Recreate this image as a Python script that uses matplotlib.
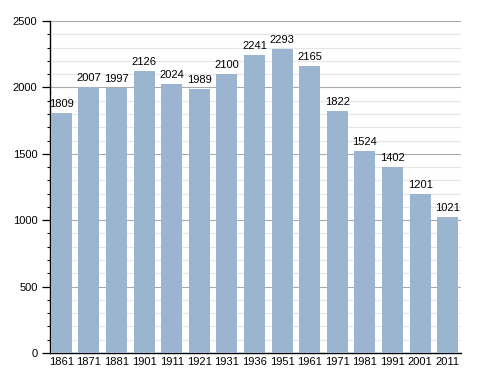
import matplotlib
matplotlib.use("Agg")
import matplotlib.pyplot as plt
from matplotlib.ticker import MultipleLocator

plt.rcParams["font.family"] = ["Liberation Sans", "DejaVu Sans"]

years = ["1861", "1871", "1881", "1901", "1911", "1921", "1931", "1936", "1951", "1961", "1971", "1981", "1991", "2001", "2011"]
population = [1809, 2007, 1997, 2126, 2024, 1989, 2100, 2241, 2293, 2165, 1822, 1524, 1402, 1201, 1021]

fig = plt.figure(figsize=(4.88, 3.73), dpi=100)
ax = fig.add_axes([0.1025, 0.0536, 0.842, 0.89])

x = list(range(len(years)))
width = 0.76
ax.bar(x, population, width=width, align="edge", color="#9bb4d0", zorder=3)
for i, v in zip(x, population):
    ax.text(i + width / 2, v + 30, str(v), ha="center", va="bottom", fontsize=8, color="black", zorder=4)

ax.set_xlim(-0.03, 14.86)
ax.set_ylim(0, 2500)
ax.set_xticks([i + width / 2 for i in x])
ax.set_xticklabels(years, fontsize=8)
ax.yaxis.set_major_locator(MultipleLocator(500))
ax.yaxis.set_minor_locator(MultipleLocator(100))
ax.tick_params(axis="y", labelsize=8, which="major", length=6, width=0.9, direction="out", pad=3)
ax.tick_params(axis="y", which="minor", length=2.5, width=0.8, direction="out")
ax.tick_params(axis="x", length=0, pad=3)
ax.grid(axis="y", which="major", color="#aaaaaa", linewidth=0.8, zorder=1)
ax.grid(axis="y", which="minor", color="#e6e6e6", linewidth=0.8, zorder=0)
for s in ["top", "right"]:
    ax.spines[s].set_visible(False)
ax.spines["left"].set_linewidth(1.0)
ax.spines["bottom"].set_linewidth(1.0)
ax.set_axisbelow(True)

fig.savefig("out.png", dpi=100)
